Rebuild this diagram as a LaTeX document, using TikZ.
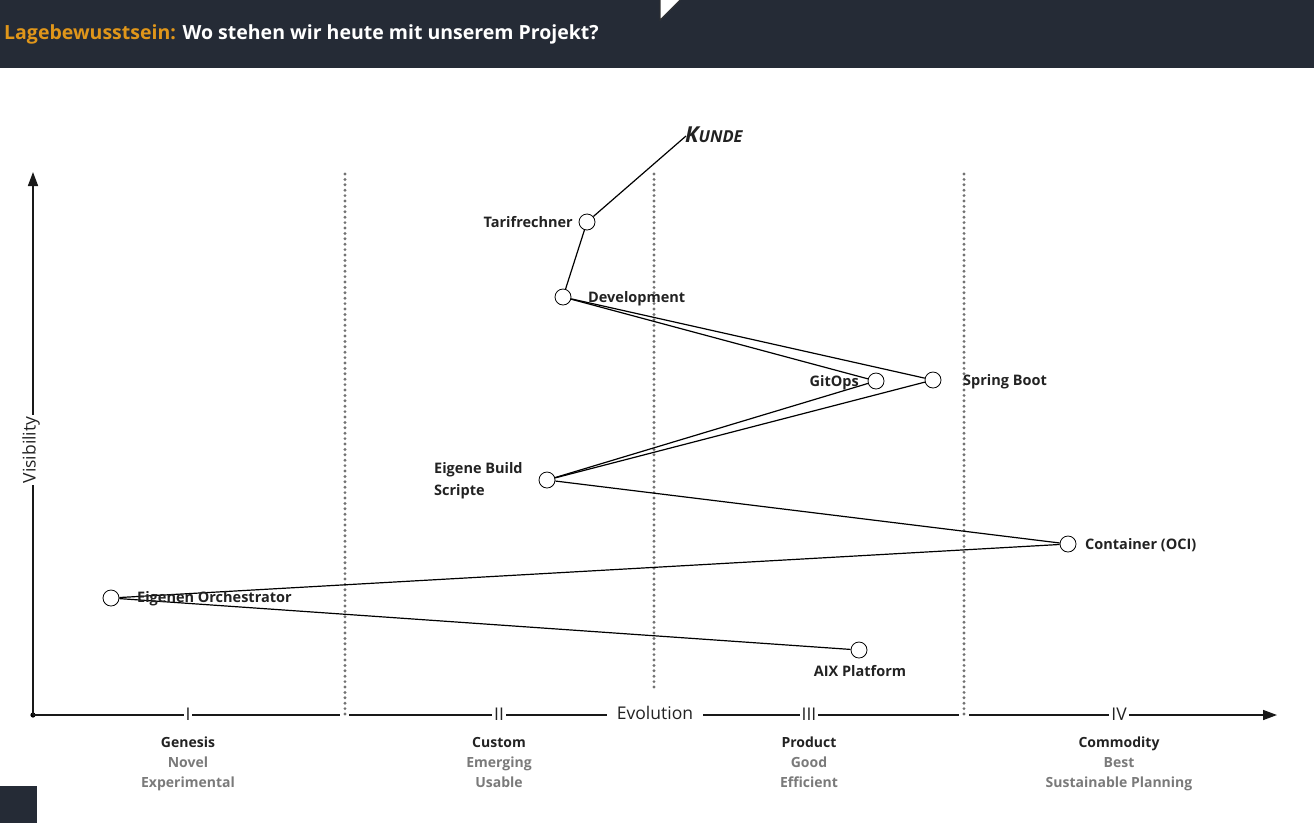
\documentclass[tikz,border=0pt]{standalone}
\usepackage{fontspec}
\setmainfont{Open Sans}
\usetikzlibrary{arrows.meta}
\definecolor{hdr}{HTML}{252B36}
\definecolor{orng}{HTML}{E0961A}
\definecolor{txt}{HTML}{222222}
\definecolor{gry}{HTML}{7A7A7A}
\definecolor{dotc}{HTML}{727272}
\begin{document}
\begin{tikzpicture}[x=1pt,y=-1pt,
  comp/.style={circle,draw=black,fill=white,line width=0.8pt,minimum size=16pt,inner sep=0pt},
  lbl/.style={font=\fontsize{14.5}{17}\selectfont\bfseries,text=txt,inner sep=0pt},
  link/.style={line width=1.2pt,black},
  stage/.style={font=\fontsize{17.5}{19}\selectfont,fill=white,inner sep=2pt,text=txt},
  cat/.style={font=\fontsize{14}{20}\selectfont\bfseries,align=center,inner sep=0pt,anchor=north},
  divider/.style={dotc,line width=3.2pt,line cap=round,dash pattern=on 0pt off 5.4pt},
  axisline/.style={line width=1.6pt,black!90}]
\useasboundingbox (0,0) rectangle (1314,823);
% header
\fill[hdr] (0,0) rectangle (1314,68);
\filldraw[fill=white,draw=black!80,line width=1pt] (660,-1) -- (681,-1) -- (660,20) -- cycle;
\node[anchor=base west,inner sep=0pt,font=\fontsize{19.5}{22}\selectfont\bfseries] (title) at (4,39)
  {\textcolor{orng}{Lagebewusstsein:} \textcolor{white}{Wo stehen wir heute mit unserem Projekt?}};
\fill[hdr] (0,786) rectangle (37,823);
% dividers
\draw[divider] (345,174) -- (345,715);
\draw[divider] (654,174) -- (654,690);
\draw[divider] (964,174) -- (964,715);
% axes
\coordinate (o) at (33,715);
\coordinate (ytop) at (33,172);
\coordinate (xend) at (1277,715);
\fill[black] (o) circle (2.6pt);
\draw[axisline,-{Triangle[length=14pt,width=10pt]}] (o) -- (ytop);
\node[stage,rotate=90] (vis) at (31,450) {Visibility};
\coordinate (a1) at (340,715);
\coordinate (a2) at (349,715);
\coordinate (a3) at (959,715);
\coordinate (a4) at (969,715);
\draw[axisline] (o) -- (a1);
\draw[axisline] (a2) -- (a3);
\draw[axisline,-{Triangle[length=14pt,width=10pt]}] (a4) -- (xend);
\node[stage] (s1) at (188,714) {I};
\node[stage] (s2) at (499,714) {II};
\node[stage,inner xsep=10pt] (evo) at (655,713) {Evolution};
\node[stage] (s3) at (809,714) {III};
\node[stage] (s4) at (1119,714) {IV};
% categories
\node[cat] (c1) at (188,733) {\strut\textcolor{txt}{Genesis}\\\textcolor{gry}{Novel}\\\textcolor{gry}{Experimental}};
\node[cat] (c2) at (499,733) {\strut\textcolor{txt}{Custom}\\\textcolor{gry}{Emerging}\\\textcolor{gry}{Usable}};
\node[cat] (c3) at (809,733) {\strut\textcolor{txt}{Product}\\\textcolor{gry}{Good}\\\textcolor{gry}{Efficient}};
\node[cat] (c4) at (1119,733) {\strut\textcolor{txt}{Commodity}\\\textcolor{gry}{Best}\\\textcolor{gry}{Sustainable Planning}};
% components
\node[anchor=base west,inner sep=0pt,text=txt,font=\bfseries\itshape] (kunde) at (685,142)
  {{\fontsize{22}{24}\selectfont K}{\fontsize{16.5}{18}\selectfont UNDE}};
\coordinate (kundeend) at (686,136);
\node[comp] (tarif) at (587,222) {};
\node[comp] (dev) at (563,297) {};
\node[comp] (gitops) at (876,381) {};
\node[comp] (spring) at (933,380) {};
\node[comp] (build) at (547,480) {};
\node[comp] (cont) at (1068,544) {};
\node[comp] (orch) at (111,598) {};
\node[comp] (aix) at (859,650) {};
% links
\draw[link] (tarif) -- (kundeend);
\draw[link] (tarif) -- (dev);
\draw[link] (dev) -- (gitops);
\draw[link] (dev) -- (spring);
\draw[link] (gitops) -- (build);
\draw[link] (spring) -- (build);
\draw[link] (build) -- (cont);
\draw[link] (cont) -- (orch);
\draw[link] (orch) -- (aix);
% labels
\node[lbl,anchor=base east] (ltarif) at (573,227) {Tarifrechner};
\node[lbl,anchor=base west] (ldev) at (588,302) {Development};
\node[lbl,anchor=base east] (lgit) at (859,386) {GitOps};
\node[lbl,anchor=base west] (lspring) at (963,385) {Spring Boot};
\node[lbl,anchor=base west] (lbuild1) at (434,473) {Eigene Build};
\node[lbl,anchor=base west] (lbuild2) at (434,495) {Scripte};
\node[lbl,anchor=base west] (lcont) at (1085,549) {Container (OCI)};
\node[lbl,anchor=base west] (lorch) at (137,602) {Eigenen Orchestrator};
\node[lbl,anchor=base] (laix) at (860,676) {AIX Platform};
\end{tikzpicture}
\end{document}
